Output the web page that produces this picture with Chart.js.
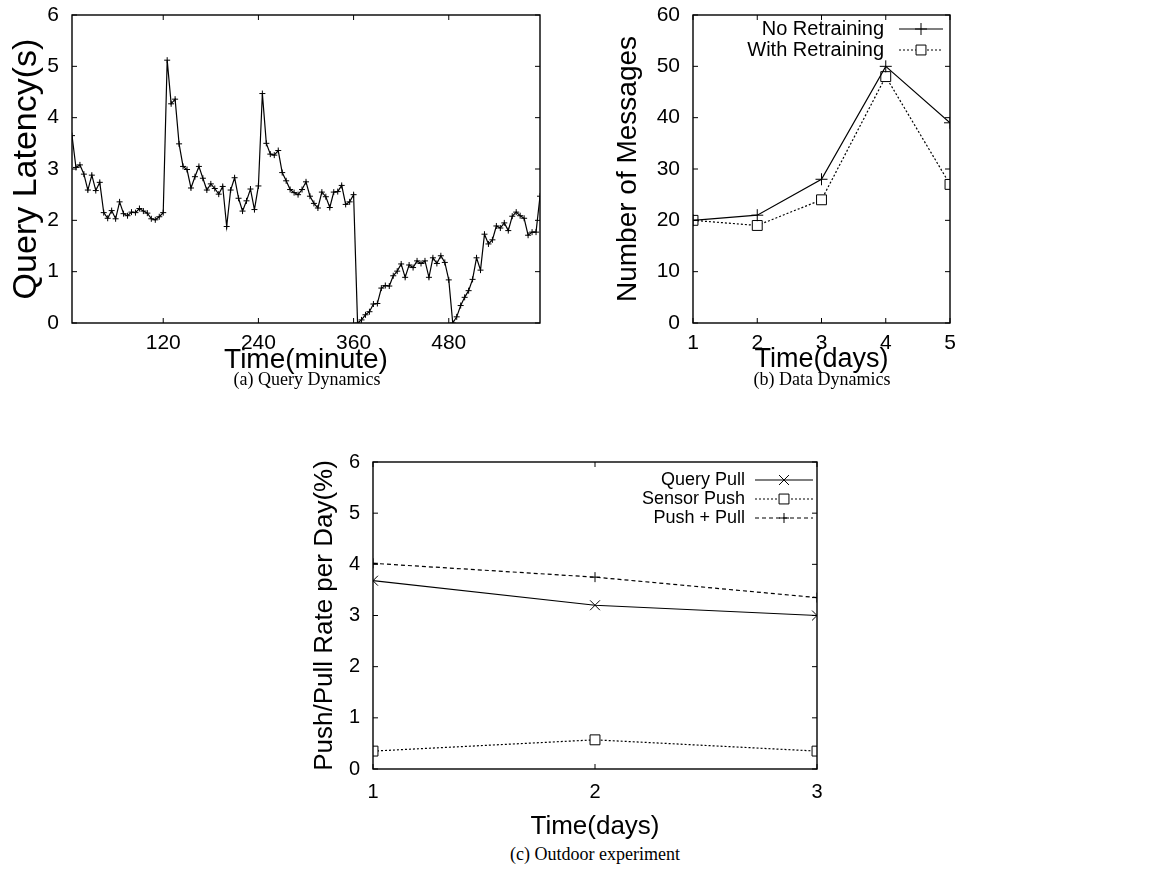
<!DOCTYPE html>
<html>
<head>
<meta charset="utf-8">
<script src="https://cdn.jsdelivr.net/npm/chart.js@4.4.1/dist/chart.umd.min.js"></script>
<style>
  body { margin: 0; background: #fff; width: 1166px; height: 878px; position: relative; overflow: hidden; }
  canvas { position: absolute; }
  .cap { position: absolute; font-family: "Liberation Serif", "Times New Roman", serif; font-size: 18px; color: #000; transform: translateX(-50%); white-space: nowrap; }
</style>
</head>
<body>
<canvas id="chartA" width="565" height="395" style="left:0px;top:0px"></canvas>
<canvas id="chartB" width="400" height="395" style="left:580px;top:0px"></canvas>
<canvas id="chartC" width="570" height="402" style="left:280px;top:440px"></canvas>
<div class="cap" style="left:307px;top:369px">(a) Query Dynamics</div>
<div class="cap" style="left:822px;top:369px">(b) Data Dynamics</div>
<div class="cap" style="left:595px;top:844px">(c) Outdoor experiment</div>
<script>
// (a) query latency, one sample every 5 minutes
const latencyMinutes = [5, 10, 15, 20, 25, 30, 35, 40, 45, 50, 55, 60, 65, 70, 75, 80, 85, 90, 95, 100,
  105, 110, 115, 120, 125, 130, 135, 140, 145, 150, 155, 160, 165, 170, 175, 180, 185, 190, 195, 200,
  205, 210, 215, 220, 225, 230, 235, 240, 245, 250, 255, 260, 265, 270, 275, 280, 285, 290, 295, 300,
  305, 310, 315, 320, 325, 330, 335, 340, 345, 350, 355, 360, 365, 370, 375, 380, 385, 390, 395, 400,
  405, 410, 415, 420, 425, 430, 435, 440, 445, 450, 455, 460, 465, 470, 475, 480, 485, 490, 495, 500,
  505, 510, 515, 520, 525, 530, 535, 540, 545, 550, 555, 560, 565, 570, 575, 580, 585, 590, 595];
const latencySec = [3.65, 3.03, 3.08, 2.90, 2.59, 2.88, 2.58, 2.74, 2.15, 2.04, 2.19, 2.03, 2.36, 2.13, 2.09, 2.16, 2.15, 2.23, 2.18, 2.14,
  2.03, 2.01, 2.07, 2.15, 5.12, 4.27, 4.36, 3.49, 3.05, 2.99, 2.63, 2.85, 3.05, 2.82, 2.59, 2.71, 2.62, 2.51, 2.66, 1.88,
  2.59, 2.83, 2.43, 2.18, 2.38, 2.61, 2.21, 2.67, 4.47, 3.50, 3.29, 3.27, 3.36, 2.93, 2.77, 2.60, 2.54, 2.50, 2.60, 2.75,
  2.47, 2.33, 2.24, 2.55, 2.46, 2.25, 2.55, 2.56, 2.68, 2.31, 2.36, 2.50, 0.00, 0.06, 0.16, 0.22, 0.37, 0.38, 0.68, 0.73,
  0.72, 0.92, 1.01, 1.15, 0.89, 1.13, 1.08, 1.21, 1.16, 1.21, 0.89, 1.27, 1.16, 1.31, 1.18, 0.84, 0.00, 0.12, 0.34, 0.50,
  0.63, 0.85, 1.27, 1.03, 1.73, 1.54, 1.62, 1.89, 1.85, 1.95, 1.80, 2.08, 2.16, 2.09, 2.04, 1.71, 1.77, 1.77, 2.47];
const minuteTicks = [120, 240, 360, 480];

// (b) number of messages per day
const days5 = [1, 2, 3, 4, 5];
const noRetraining = [20, 21, 28, 50, 39];
const withRetraining = [20, 19, 24, 48, 27];

// (c) outdoor experiment
const days3 = [1, 2, 3];
const queryPull = [3.68, 3.20, 3.00];
const sensorPush = [0.35, 0.57, 0.35];
const pushPlusPull = [4.02, 3.75, 3.35];

Chart.defaults.font.family = '"Liberation Sans", Arial, sans-serif';
Chart.defaults.color = '#000';

function drawMarker(ctx, style, r, x, y) {
  ctx.beginPath();
  if (style === 'cross') {
    ctx.moveTo(x - r, y); ctx.lineTo(x + r, y);
    ctx.moveTo(x, y - r); ctx.lineTo(x, y + r);
  } else if (style === 'crossRot') {
    const d = r * Math.SQRT1_2;
    ctx.moveTo(x - d, y - d); ctx.lineTo(x + d, y + d);
    ctx.moveTo(x - d, y + d); ctx.lineTo(x + d, y - d);
  } else if (style === 'rect') {
    const s = r * Math.SQRT1_2;
    ctx.fillStyle = '#fff';
    ctx.rect(x - s, y - s, 2 * s, 2 * s);
    ctx.fill();
  }
  ctx.stroke();
}

// gnuplot-like frame: full border, inward ticks, key inside the plot
const framePlugin = {
  id: 'frame',
  afterDatasetsDraw(chart, args, opts) {
    const { ctx, chartArea: a, scales: { x, y } } = chart;
    ctx.save();
    ctx.strokeStyle = '#000';
    ctx.lineWidth = 1.4;
    ctx.setLineDash([]);
    ctx.strokeRect(a.left, a.top, a.right - a.left, a.bottom - a.top);
    ctx.lineWidth = 1;
    ctx.beginPath();
    x.ticks.forEach(t => {
      const px = x.getPixelForValue(t.value);
      ctx.moveTo(px, a.bottom); ctx.lineTo(px, a.bottom - 5);
      ctx.moveTo(px, a.top); ctx.lineTo(px, a.top + 5);
    });
    y.ticks.forEach(t => {
      const py = y.getPixelForValue(t.value);
      ctx.moveTo(a.left, py); ctx.lineTo(a.left + 5, py);
      ctx.moveTo(a.right, py); ctx.lineTo(a.right - 5, py);
    });
    ctx.stroke();

    if (opts.key) {
      const k = opts.key;
      ctx.font = k.fontSize + 'px "Liberation Sans", Arial, sans-serif';
      ctx.textAlign = 'right';
      ctx.textBaseline = 'middle';
      chart.data.datasets.forEach((ds, i) => {
        const ry = a.top + k.firstRow + i * k.rowGap;
        ctx.fillStyle = '#000';
        ctx.fillText(ds.label, a.right - k.textGap, ry);
        ctx.lineWidth = ds.borderWidth;
        ctx.setLineDash(ds.borderDash || []);
        ctx.beginPath();
        ctx.moveTo(a.right - k.lineFrom, ry);
        ctx.lineTo(a.right - k.lineTo, ry);
        ctx.stroke();
        ctx.setLineDash([]);
        ctx.lineWidth = 1;
        drawMarker(ctx, ds.pointStyle, ds.pointRadius, a.right - (k.lineFrom + k.lineTo) / 2, ry);
      });
    }
    ctx.restore();
  }
};

function series(xs, ys, label, style, radius, dash) {
  return {
    label: label,
    data: xs.map((v, i) => ({ x: v, y: ys[i] })),
    borderColor: '#000',
    backgroundColor: '#fff',
    borderWidth: 1.2,
    borderDash: dash,
    pointStyle: style,
    pointRadius: radius,
    pointBorderWidth: 1,
    pointBorderColor: '#000',
    pointBackgroundColor: '#fff',
    tension: 0,
    fill: false
  };
}

function axes(cfg) {
  return {
    x: {
      type: 'linear',
      min: cfg.xMin, max: cfg.xMax,
      afterBuildTicks: s => { s.ticks = cfg.xTicks.map(v => ({ value: v })); },
      afterFit: s => { s.height = cfg.xHeight; s.paddingLeft = 0; s.paddingRight = 0; },
      grid: { display: false, drawTicks: false },
      border: { display: false },
      ticks: { font: { size: cfg.tickSize }, padding: cfg.xTickPad, maxRotation: 0, autoSkip: false },
      title: { display: true, text: cfg.xTitle, font: { size: cfg.xTitleSize }, padding: { top: 0, bottom: cfg.xTitlePad } }
    },
    y: {
      min: cfg.yMin, max: cfg.yMax,
      afterBuildTicks: s => { s.ticks = cfg.yTicks.map(v => ({ value: v })); },
      afterFit: s => { s.width = cfg.yWidth; s.paddingTop = 0; s.paddingBottom = 0; },
      grid: { display: false, drawTicks: false },
      border: { display: false },
      ticks: { font: { size: cfg.tickSize }, padding: 13 },
      title: { display: true, text: cfg.yTitle, font: { size: cfg.yTitleSize }, padding: { top: cfg.yTitlePad, bottom: 0 } }
    }
  };
}

const baseOptions = (pad, scales, key) => ({
  responsive: false,
  animation: false,
  layout: { padding: pad },
  plugins: { legend: { display: false }, tooltip: { enabled: false }, frame: { key: key } },
  scales: scales
});

new Chart(document.getElementById('chartA'), {
  type: 'line',
  data: { datasets: [series(latencyMinutes, latencySec, 'Query Latency', 'cross', 3, [])] },
  options: baseOptions({ left: 0, top: 15, right: 25, bottom: 0 }, axes({
    tickSize: 21, xTickPad: 8,
    xMin: 5, xMax: 595, xTicks: minuteTicks, xHeight: 72, xTitle: 'Time(minute)', xTitleSize: 28, xTitlePad: 18,
    yMin: 0, yMax: 6, yTicks: [0, 1, 2, 3, 4, 5, 6], yWidth: 72, yTitle: 'Query Latency(s)', yTitleSize: 34, yTitlePad: 6
  }), null),
  plugins: [framePlugin]
});

new Chart(document.getElementById('chartB'), {
  type: 'line',
  data: { datasets: [
    series(days5, noRetraining, 'No Retraining', 'cross', 6, []),
    series(days5, withRetraining, 'With Retraining', 'rect', 7, [2, 2])
  ] },
  options: baseOptions({ left: 0, top: 15, right: 30, bottom: 0 }, axes({
    tickSize: 21, xTickPad: 8,
    xMin: 1, xMax: 5, xTicks: days5, xHeight: 72, xTitle: 'Time(days)', xTitleSize: 27, xTitlePad: 19,
    yMin: 0, yMax: 60, yTicks: [0, 10, 20, 30, 40, 50, 60], yWidth: 113, yTitle: 'Number of Messages', yTitleSize: 28, yTitlePad: 31
  }), { fontSize: 20, firstRow: 14, rowGap: 21, textGap: 66, lineFrom: 51, lineTo: 7 }),
  plugins: [framePlugin]
});

new Chart(document.getElementById('chartC'), {
  type: 'line',
  data: { datasets: [
    series(days3, queryPull, 'Query Pull', 'crossRot', 7, []),
    series(days3, sensorPush, 'Sensor Push', 'rect', 7, [2, 2]),
    series(days3, pushPlusPull, 'Push + Pull', 'cross', 5, [4, 3])
  ] },
  options: baseOptions({ left: 0, top: 22, right: 33, bottom: 0 }, axes({
    tickSize: 20, xTickPad: 11,
    xMin: 1, xMax: 3, xTicks: days3, xHeight: 73, xTitle: 'Time(days)', xTitleSize: 26, xTitlePad: 0,
    yMin: 0, yMax: 6, yTicks: [0, 1, 2, 3, 4, 5, 6], yWidth: 93, yTitle: 'Push/Pull Rate per Day(%)', yTitleSize: 26, yTitlePad: 29
  }), { fontSize: 18, firstRow: 18, rowGap: 19, textGap: 72, lineFrom: 62, lineTo: 4 }),
  plugins: [framePlugin]
});
</script>
</body>
</html>
